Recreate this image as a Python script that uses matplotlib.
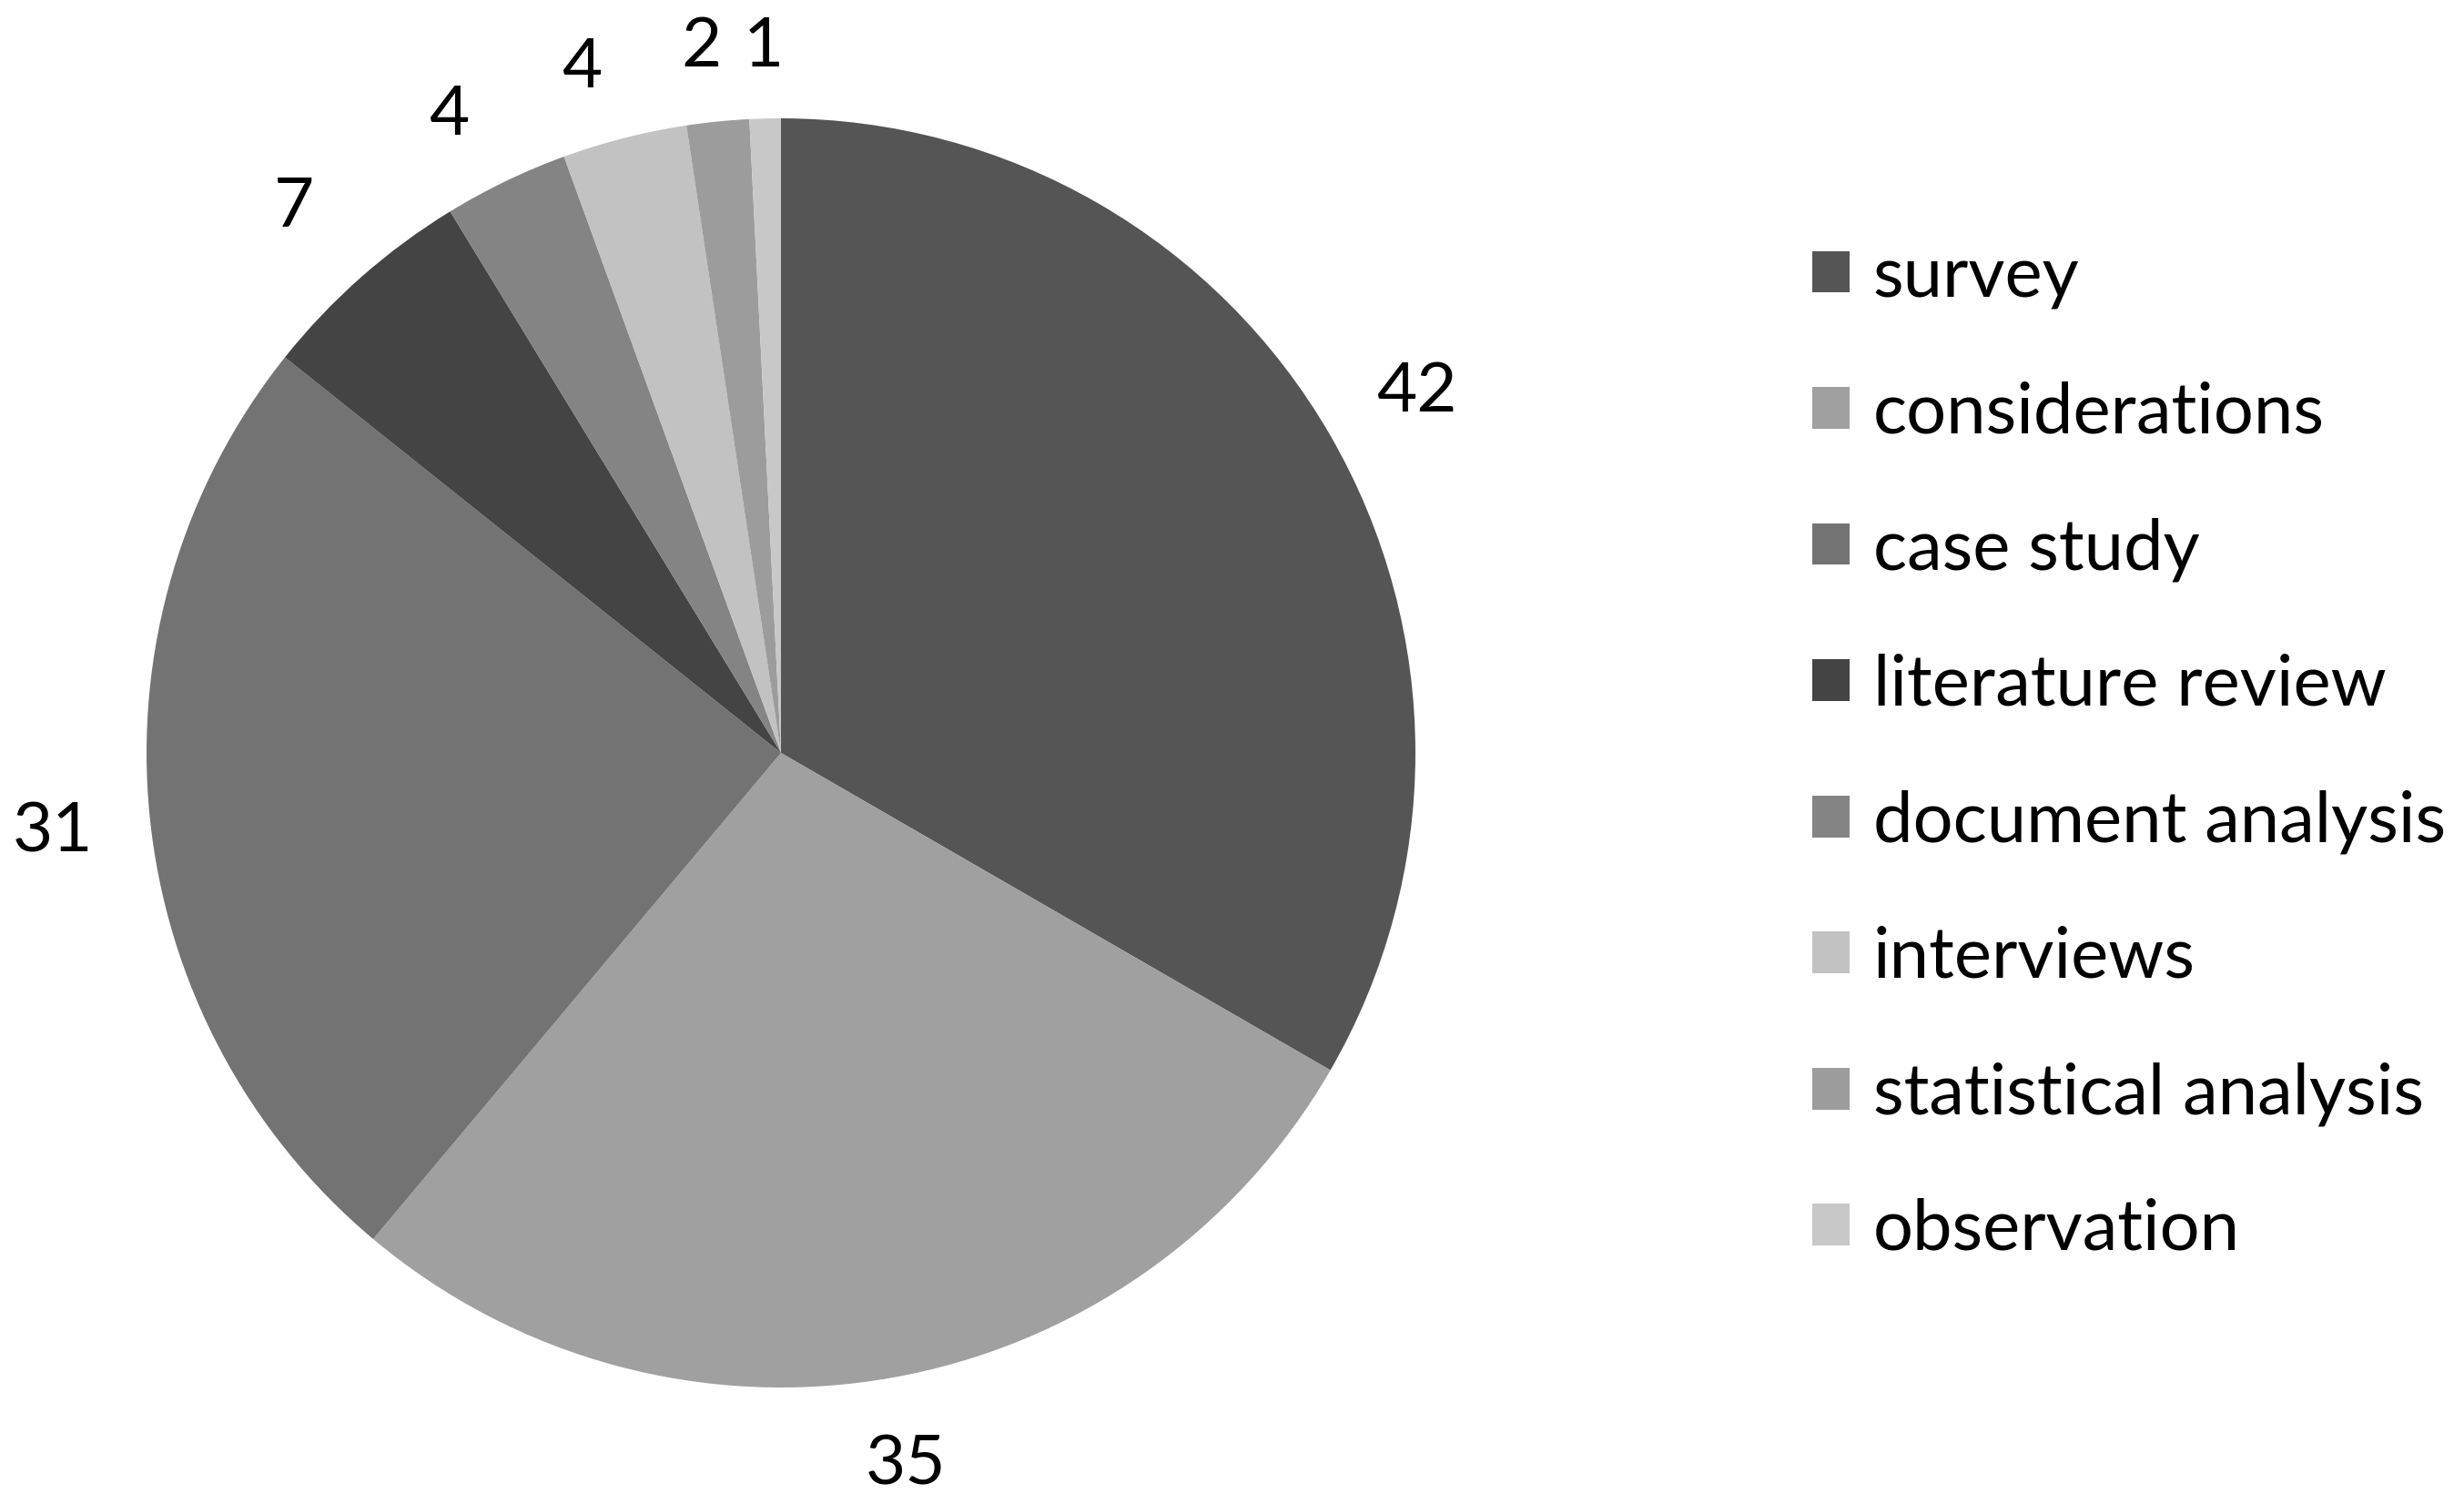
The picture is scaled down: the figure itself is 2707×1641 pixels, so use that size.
import matplotlib
matplotlib.use("Agg")
import matplotlib.pyplot as plt
import numpy as np

categories = ["survey", "considerations", "case study", "literature review",
              "document analysis", "interviews", "statistical analysis", "observation"]
values = [42, 35, 31, 7, 4, 4, 2, 1]
colors = ["#555555", "#a0a0a0", "#737373", "#444444",
          "#848484", "#c2c2c2", "#9c9c9c", "#c8c8c8"]
# label placement (distance from centre in radii, angular nudge in degrees)
label_dist = [1.157, 1.13, 1.153, 1.159, 1.142, 1.134, 1.129, 1.122]
label_nudge = [0, 0, 0, 0, 1.6, 1.8, 0.7, 0]

plt.rcParams['font.family'] = ['Lato', 'DejaVu Sans']

W, H = 2707, 1641
fig = plt.figure(figsize=(W / 100, H / 100), dpi=100)
cx, cy, r = 858, 827, 697
ax = fig.add_axes([(cx - r) / W, (H - cy - r) / H, 2 * r / W, 2 * r / H])
wedges, texts = ax.pie(
    values, colors=colors, startangle=90, counterclock=False, radius=1,
    wedgeprops=dict(linewidth=0))
for w, v, d, n in zip(wedges, values, label_dist, label_nudge):
    ang = np.deg2rad((w.theta1 + w.theta2) / 2 + n)
    ax.text(d * np.cos(ang), d * np.sin(ang), str(v), ha="center",
            va="center_baseline", fontsize=55, color="black")
ax.set_xlim(-1, 1)
ax.set_ylim(-1, 1)
ax.axis("off")

fig.legend(wedges, categories, loc="upper left",
           bbox_to_anchor=(1991 / W, 1 - 269 / H), bbox_transform=fig.transFigure,
           frameon=False, fontsize=56, handlelength=0.53, handleheight=0.53,
           handletextpad=0.33, labelspacing=1.01, borderpad=0, borderaxespad=0)

fig.savefig("out.png", dpi=100)
